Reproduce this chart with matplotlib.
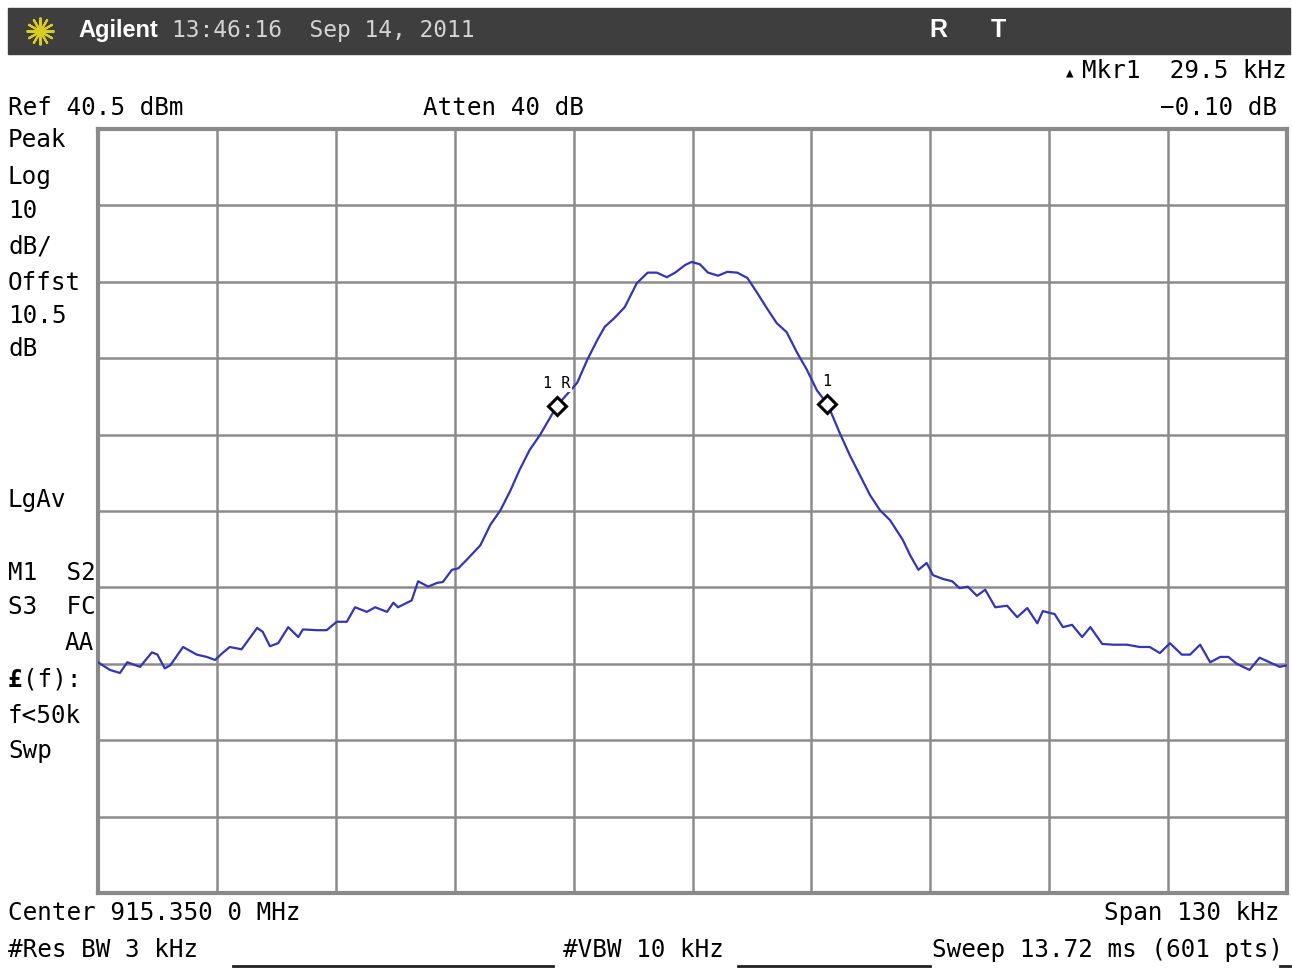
import numpy as np
import matplotlib
matplotlib.use("Agg")
import matplotlib.pyplot as plt
from matplotlib.patches import Rectangle
from matplotlib.lines import Line2D

# trace: offset from center (kHz) and level (dBm)
freq_khz = [-65.0, -63.7, -62.6, -61.8, -60.4, -59.1, -58.5, -57.7, -57.1, -55.7,
            -54.2, -53.1, -52.2, -51.4, -50.6, -49.3, -47.6, -47.0, -46.2, -45.3,
            -44.2, -43.1, -42.6, -41.1, -40.0, -38.9, -37.8, -36.9, -35.6, -34.7,
            -33.4, -32.7, -32.2, -30.7, -30.0, -28.9, -27.9, -27.3, -26.3, -25.6,
            -24.7, -23.2, -22.1, -21.0, -19.9, -18.9, -17.8, -16.7, -14.8, -12.6,
            -11.5, -10.4, -9.6, -8.5, -7.4, -6.1, -4.9, -3.9, -2.8, -1.9,
            -0.8, -0.1, 0.8, 1.7, 2.8, 3.8, 4.9, 6.0, 7.1, 8.1,
            9.2, 10.3, 11.4, 12.5, 13.6, 14.8, 16.1, 17.2, 18.3, 19.4,
            20.5, 21.6, 23.0, 23.8, 24.7, 25.6, 26.3, 27.4, 28.4, 29.2,
            30.1, 31.1, 32.0, 33.1, 34.4, 35.5, 36.6, 37.7, 38.3, 39.6,
            40.5, 41.5, 42.6, 43.5, 44.8, 46.0, 47.5, 48.9, 50.0, 51.1,
            52.2, 53.5, 54.4, 55.5, 56.6, 57.7, 58.6, 59.5, 60.9, 62.0,
            63.1, 64.2, 65.0]
level_dbm = [-29.3, -30.3, -30.7, -29.3, -29.9, -28.0, -28.3, -30.1, -29.7, -27.3,
             -28.3, -28.6, -29.0, -28.1, -27.3, -27.6, -24.8, -25.3, -27.2, -26.8,
             -24.7, -26.0, -25.0, -25.1, -25.1, -24.0, -24.0, -22.1, -22.7, -22.1,
             -22.7, -21.5, -22.1, -21.2, -18.7, -19.4, -18.9, -18.8, -17.2, -17.0,
             -15.9, -14.0, -11.3, -9.4, -6.8, -4.1, -1.5, 0.4, 4.3, 7.3,
             10.3, 12.9, 14.6, 15.8, 17.2, 20.3, 21.7, 21.7, 21.1, 21.7,
             22.7, 23.1, 22.8, 21.7, 21.3, 21.8, 21.7, 21.0, 19.0, 17.1,
             15.1, 13.9, 11.3, 9.0, 6.3, 4.4, 0.7, -2.2, -4.8, -7.4,
             -9.4, -10.7, -13.3, -15.3, -17.2, -16.3, -17.9, -18.4, -18.7, -19.6,
             -19.4, -20.6, -19.8, -22.1, -21.9, -23.4, -22.2, -24.2, -22.6, -23.0,
             -24.7, -24.4, -26.0, -24.7, -26.9, -27.0, -27.0, -27.3, -27.3, -28.1,
             -26.8, -28.3, -28.3, -27.0, -29.3, -28.6, -28.6, -29.5, -30.3, -28.7,
             -29.3, -29.9, -29.7]

ref_level = 40.5
db_per_div = 10
span_khz = 130
mkr_ref_khz = -14.8
mkr_delta_khz = 29.5

W, H = 1292, 968
fig = plt.figure(figsize=(W / 100, H / 100), dpi=100)
fig.patch.set_facecolor("white")

def fx(px):
    return px / W

def fy(py):
    return 1 - py / H

ax = fig.add_axes([fx(98), fy(893), fx(1287) - fx(98), fy(129) - fy(893)])
ax.set_xlim(-span_khz / 2, span_khz / 2)
ax.set_ylim(ref_level - 10 * db_per_div, ref_level)
ax.set_xticks(np.linspace(-span_khz / 2, span_khz / 2, 11))
ax.set_yticks(np.linspace(ref_level - 10 * db_per_div, ref_level, 11))
ax.tick_params(length=0, labelbottom=False, labelleft=False)
ax.grid(True, color="#8c8c8c", lw=1.8)
for s in ax.spines.values():
    s.set_color("#8a8a8a")
    s.set_linewidth(3)

ax.plot(freq_khz, level_dbm, color="#3434b4", lw=1.6, zorder=3)

# markers
mono = "DejaVu Sans Mono"
for f, lab in [(mkr_ref_khz, "1 R"), (mkr_ref_khz + mkr_delta_khz, "1")]:
    lv = np.interp(f, freq_khz, level_dbm)
    ax.plot(f, lv, marker="D", ms=9, mfc="white", mec="black", mew=2.2, zorder=4)
    ax.annotate(lab, (f, lv), xytext=(0, 16), textcoords="offset points",
                ha="center", va="center", fontsize=11, family=mono,
                bbox=dict(fc="white", ec="none", pad=0.5), zorder=5)

# header bar
fig.patches.append(Rectangle((fx(8), fy(54)), fx(1290) - fx(8), fy(8) - fy(54),
                             transform=fig.transFigure, color="#3e3e3e", zorder=0))
fig.add_artist(Line2D([fx(40)], [fy(31)], marker=(12, 2, 0), ms=20, mew=1.5,
                      color="#d8cc20", transform=fig.transFigure))
fig.text(fx(78), fy(31), "Agilent", color="white", fontsize=17, weight="bold",
         family="Liberation Sans", va="center")
fig.text(fx(172), fy(31), "13:46:16  Sep 14, 2011", color="#d4d4d4", fontsize=16.5,
         family=mono, va="center")
fig.text(fx(938), fy(30), "R", color="white", fontsize=18, weight="bold",
         family="Liberation Sans", va="center", ha="center")
fig.text(fx(998), fy(30), "T", color="white", fontsize=18, weight="bold",
         family="Liberation Sans", va="center", ha="center")

fs = 17.5
fig.text(fx(8), fy(108), "Ref 40.5 dBm", fontsize=fs, family=mono, va="center")
fig.text(fx(423), fy(108), "Atten 40 dB", fontsize=fs, family=mono, va="center")
fig.text(fx(1277), fy(108), "\u22120.10 dB", fontsize=fs, family=mono, va="center", ha="right")
fig.text(fx(1287), fy(71), "Mkr1  29.5 kHz", fontsize=fs, family=mono, va="center", ha="right")
fig.text(fx(1070), fy(73), "\u25b2", fontsize=9, family=mono, va="center", ha="center")

left_labels = [("Peak", 140), ("Log", 177), ("10", 211), ("dB/", 246), ("Offst", 283),
               ("10.5", 316), ("dB", 349), ("LgAv", 500), ("M1  S2", 573),
               ("S3  FC", 607), ("f<50k", 716), ("Swp", 751)]
for t, py in left_labels:
    fig.text(fx(8), fy(py), t, fontsize=fs, family=mono, va="center")
fig.text(fx(94), fy(643), "AA", fontsize=fs, family=mono, va="center", ha="right")
fig.text(fx(8), fy(680), "\u00a3", fontsize=fs, family=mono, weight="bold", va="center")
fig.text(fx(23), fy(680), "(f):", fontsize=fs, family=mono, va="center")

fig.text(fx(8), fy(913), "Center 915.350 0 MHz", fontsize=fs, family=mono, va="center")
fig.text(fx(1280), fy(913), "Span 130 kHz", fontsize=fs, family=mono, va="center", ha="right")
fig.text(fx(8), fy(950), "#Res BW 3 kHz", fontsize=fs, family=mono, va="center")
fig.text(fx(563), fy(950), "#VBW 10 kHz", fontsize=fs, family=mono, va="center")
fig.text(fx(932), fy(950), "Sweep 13.72 ms (601 pts)", fontsize=fs, family=mono, va="center")
for x0, x1 in [(233, 553), (738, 930), (1280, 1290)]:
    fig.add_artist(Line2D([fx(x0), fx(x1)], [fy(966), fy(966)], color="#222222", lw=2,
                          transform=fig.transFigure))

fig.savefig("out.png", dpi=100)
